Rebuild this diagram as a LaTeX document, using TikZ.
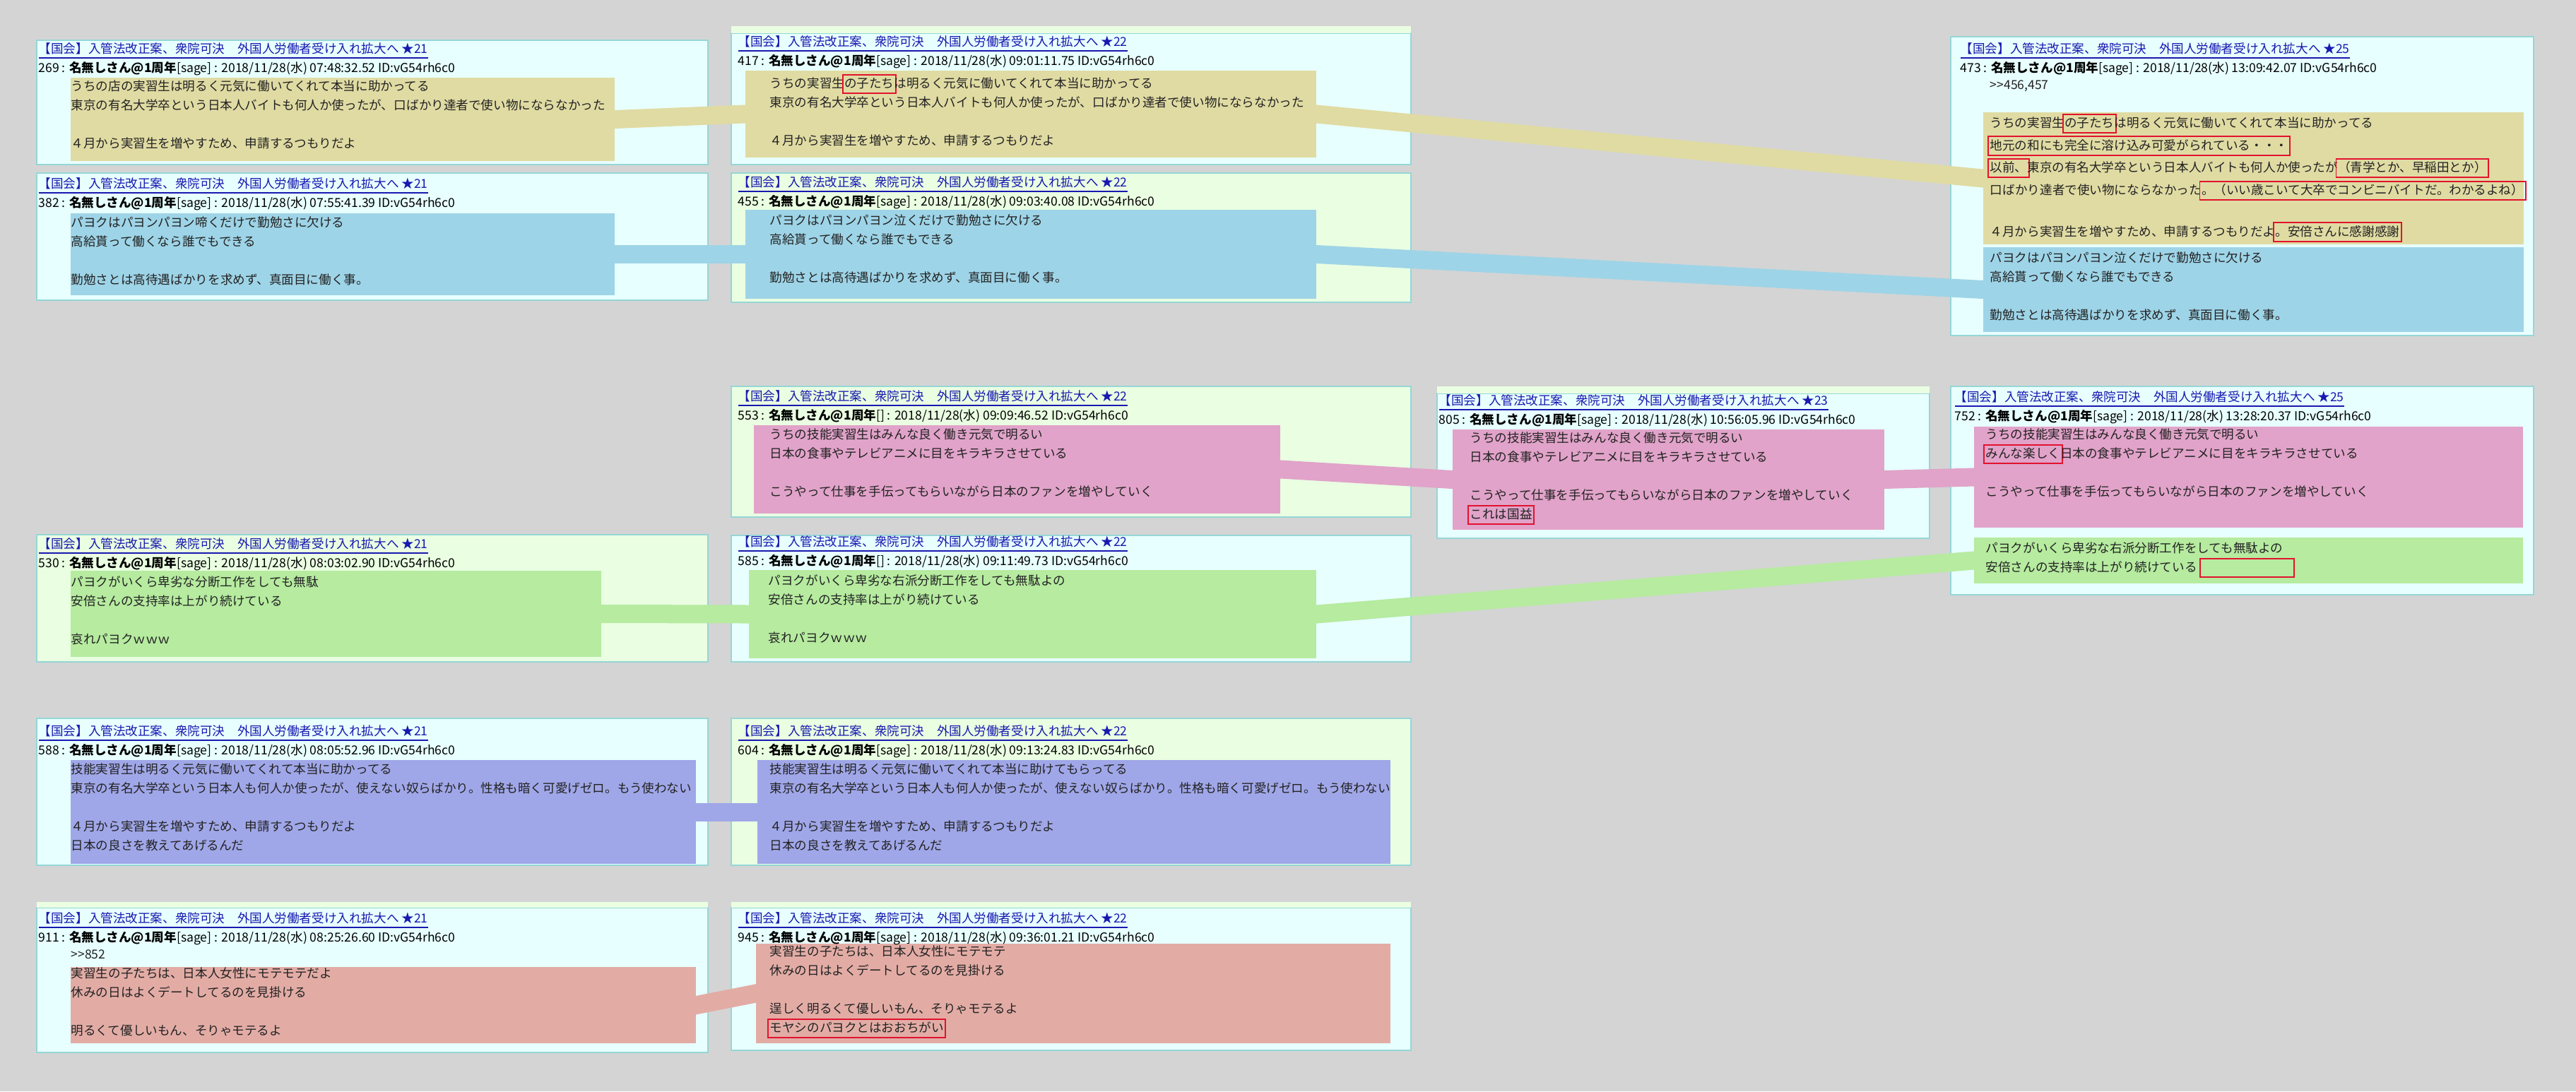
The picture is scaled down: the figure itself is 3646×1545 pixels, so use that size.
\documentclass[tikz,border=0pt]{standalone}
\usepackage{fontspec}
\newfontfamily\jp{Noto Sans CJK JP}
\usetikzlibrary{fit}

\definecolor{bgray}{RGB}{212,212,212}
\definecolor{cyanbg}{RGB}{232,255,255}
\definecolor{greenbg}{RGB}{234,255,226}
\definecolor{boxln}{RGB}{150,214,214}
\definecolor{ylw}{RGB}{224,219,163}
\definecolor{blu}{RGB}{158,212,231}
\definecolor{pnk}{RGB}{225,163,201}
\definecolor{grn}{RGB}{182,235,160}
\definecolor{prp}{RGB}{160,167,232}
\definecolor{slm}{RGB}{226,172,165}
\definecolor{lnk}{RGB}{24,24,176}
\definecolor{redfr}{RGB}{226,18,46}
\definecolor{txtc}{RGB}{34,34,34}

\newcommand\postfont{\fontsize{5pt}{7.68pt}\selectfont}
\newcommand\ttl[1]{{\color{lnk}\underline{【国会】入管法改正案、衆院可決　外国人労働者受け入れ拡大へ ★#1}}}
\newcommand\hd[3]{#1~: \textbf{名無しさん@1周年}[#2] : 2018/11/28(水) #3 ID:vG54rh6c0}
\newcommand\rmark[1]{\leavevmode\rlap{\hspace{-1pt}\textcolor{redfr}{\setlength\fboxsep{0.45pt}\setlength\fboxrule{0.55pt}\fbox{\phantom{#1}\rule[-1.4pt]{0pt}{6pt}}}}#1}

\pgfdeclarelayer{posts}
\pgfdeclarelayer{bands}
\pgfsetlayers{posts,bands,main}

\begin{document}
\begin{tikzpicture}[x=0.01cm, y=-0.01cm,
    postbox/.style={draw=boxln, line width=0.4pt},
    blk/.style={inner sep=0pt, draw=none},
    band/.style={line width=0.26cm, shorten <=-3mm, shorten >=-3mm},
    hdr/.style={anchor=north west, inner sep=0pt, align=left, font=\jp\postfont,
                text=black, execute at begin node=\strut},
    txt/.style={hdr, text=txtc}]

    % Page and post frames
    \begin{pgfonlayer}{posts}
        \fill[bgray] (0,0) rectangle (3646,1545);
        \foreach \xa/\ya/\xb/\yb/\bg in {52/57/1002/233/cyanbg, 52/245/1002/425/cyanbg,
                1035/47/1997/233/cyanbg, 1035/245/1997/428/greenbg, 2761/52/3586/475/cyanbg,
                1035/547/1997/732/greenbg, 2034/557/2731/762/cyanbg, 2761/547/3586/842/cyanbg,
                52/757/1002/937/greenbg, 1035/758/1997/937/cyanbg, 52/1017/1002/1225/cyanbg,
                1035/1017/1997/1225/greenbg, 52/1285/1002/1490/cyanbg, 1035/1285/1997/1487/cyanbg}
            \draw[postbox, fill=\bg] (\xa,\ya) rectangle (\xb,\yb);
        % end of the post above
        \foreach \xa/\ya/\xb/\yb in {1035/37/1997/47, 2034/547/2731/557,
                52/1277/1002/1285, 1035/1277/1997/1285}
            \fill[greenbg] (\xa,\ya) rectangle (\xb,\yb);
    \end{pgfonlayer}

    % Coloured passages
    \node[blk, fill=ylw, fit={(100,110) (870,228)}] (b1) {};
    \node[blk, fill=blu, fit={(100,302) (870,418)}] (b2) {};
    \node[blk, fill=ylw, fit={(1055,100) (1863,223)}] (b3) {};
    \node[blk, fill=blu, fit={(1055,297) (1863,423)}] (b4) {};
    \node[blk, fill=ylw, fit={(2807,159) (3572,346)}] (b5y) {};
    \node[blk, fill=blu, fit={(2807,350) (3572,470)}] (b5b) {};
    \node[blk, fill=pnk, fit={(1067,602) (1812,727)}] (b6) {};
    \node[blk, fill=pnk, fit={(2056,608) (2667,750)}] (b7) {};
    \node[blk, fill=pnk, fit={(2794,604) (3571,747)}] (b8p) {};
    \node[blk, fill=grn, fit={(2794,761) (3571,826)}] (b8g) {};
    \node[blk, fill=grn, fit={(100,808) (851,930)}] (b9) {};
    \node[blk, fill=grn, fit={(1060,807) (1863,932)}] (b10) {};
    \node[blk, fill=prp, fit={(100,1076) (985,1223)}] (b11) {};
    \node[blk, fill=prp, fit={(1072,1076) (1968,1223)}] (b12) {};
    \node[blk, fill=slm, fit={(100,1369) (985,1477)}] (b13) {};
    \node[blk, fill=slm, fit={(1070,1336) (1968,1477)}] (b14) {};

    % Thread titles and post headers
    \node[hdr] (h1) at (54,60) {\ttl{21}\\\hd{269}{sage}{07:48:32.52}};
    \node[hdr] (h2) at (54,251) {\ttl{21}\\\hd{382}{sage}{07:55:41.39}};
    \node[hdr] (h3) at (1044,50) {\ttl{22}\\\hd{417}{sage}{09:01:11.75}};
    \node[hdr] (h4) at (1044,249) {\ttl{22}\\\hd{455}{sage}{09:03:40.08}};
    \node[hdr] (h5) at (2774,60) {\ttl{25}\\\hd{473}{sage}{13:09:42.07}};
    \node[hdr] (h6) at (1044,552) {\ttl{22}\\\hd{553}{}{09:09:46.52}};
    \node[hdr] (h7) at (2036,558) {\ttl{23}\\\hd{805}{sage}{10:56:05.96}};
    \node[hdr] (h8) at (2766,553) {\ttl{25}\\\hd{752}{sage}{13:28:20.37}};
    \node[hdr] (h9) at (54,761) {\ttl{21}\\\hd{530}{sage}{08:03:02.90}};
    \node[hdr] (h10) at (1044,758) {\ttl{22}\\\hd{585}{}{09:11:49.73}};
    \node[hdr] (h11) at (54,1026) {\ttl{21}\\\hd{588}{sage}{08:05:52.96}};
    \node[hdr] (h12) at (1044,1026) {\ttl{22}\\\hd{604}{sage}{09:13:24.83}};
    \node[hdr] (h13) at (54,1291) {\ttl{21}\\\hd{911}{sage}{08:25:26.60}};
    \node[hdr] (h14) at (1044,1291) {\ttl{22}\\\hd{945}{sage}{09:36:01.21}};

    % Post texts
    \node[txt] (t1) at (100,113) {うちの店の実習生は明るく元気に働いてくれて本当に助かってる\\
        東京の有名大学卒という日本人バイトも何人か使ったが、口ばかり達者で使い物にならなかった\\[7.68pt]
        ４月から実習生を増やすため、申請するつもりだよ};
    \node[txt] (t2) at (100,306) {パヨクはパヨンパヨン啼くだけで勤勉さに欠ける\\
        高給貰って働くなら誰でもできる\\[7.68pt]
        勤勉さとは高待遇ばかりを求めず、真面目に働く事。};
    \node[txt] (t3) at (1089,104) {うちの実習生\rmark{の子たち}は明るく元気に働いてくれて本当に助かってる\\
        東京の有名大学卒という日本人バイトも何人か使ったが、口ばかり達者で使い物にならなかった\\[7.68pt]
        ４月から実習生を増やすため、申請するつもりだよ};
    \node[txt] (t4) at (1089,303) {パヨクはパヨンパヨン泣くだけで勤勉さに欠ける\\
        高給貰って働くなら誰でもできる\\[7.68pt]
        勤勉さとは高待遇ばかりを求めず、真面目に働く事。};
    \node[txt] (t5y) at (2816,113) {>{}>456,457\\[7.68pt]
        うちの実習生\rmark{の子たち}は明るく元気に働いてくれて本当に助かってる\\
        \rmark{地元の和にも完全に溶け込み可愛がられている・・・}\\
        \rmark{以前、}東京の有名大学卒という日本人バイトも何人か使ったが\rmark{（青学とか、早稲田とか）}\\
        口ばかり達者で使い物にならなかった\rmark{。（いい歳こいて大卒でコンビニバイトだ。わかるよね）}\\[7.68pt]
        ４月から実習生を増やすため、申請するつもりだよ\rmark{。安倍さんに感謝感謝}};
    \node[txt] (t5b) at (2816,356) {パヨクはパヨンパヨン泣くだけで勤勉さに欠ける\\
        高給貰って働くなら誰でもできる\\[7.68pt]
        勤勉さとは高待遇ばかりを求めず、真面目に働く事。};
    \node[txt] (t6) at (1089,606) {うちの技能実習生はみんな良く働き元気で明るい\\
        日本の食事やテレビアニメに目をキラキラさせている\\[7.68pt]
        こうやって仕事を手伝ってもらいながら日本のファンを増やしていく};
    \node[txt] (t7) at (2080,611) {うちの技能実習生はみんな良く働き元気で明るい\\
        日本の食事やテレビアニメに目をキラキラさせている\\[7.68pt]
        こうやって仕事を手伝ってもらいながら日本のファンを増やしていく\\
        \rmark{これは国益}};
    \node[txt] (t8p) at (2810,606) {うちの技能実習生はみんな良く働き元気で明るい\\
        \rmark{みんな楽しく}日本の食事やテレビアニメに目をキラキラさせている\\[7.68pt]
        こうやって仕事を手伝ってもらいながら日本のファンを増やしていく};
    \node[txt] (t8g) at (2810,767) {パヨクがいくら卑劣な右派分断工作をしても無駄よの\\
        安倍さんの支持率は上がり続けている\hspace{2pt}\rmark{\hspace{1.28cm}}};
    \node[txt] (t9) at (100,815) {パヨクがいくら卑劣な分断工作をしても無駄\\
        安倍さんの支持率は上がり続けている\\[7.68pt]
        哀れパヨクｗｗｗ};
    \node[txt] (t10) at (1087,813) {パヨクがいくら卑劣な右派分断工作をしても無駄よの\\
        安倍さんの支持率は上がり続けている\\[7.68pt]
        哀れパヨクｗｗｗ};
    \node[txt] (t11) at (100,1080) {技能実習生は明るく元気に働いてくれて本当に助かってる\\
        東京の有名大学卒という日本人も何人か使ったが、使えない奴らばかり。性格も暗く可愛げゼロ。もう使わない\\[7.68pt]
        ４月から実習生を増やすため、申請するつもりだよ\\
        日本の良さを教えてあげるんだ};
    \node[txt] (t12) at (1089,1080) {技能実習生は明るく元気に働いてくれて本当に助けてもらってる\\
        東京の有名大学卒という日本人も何人か使ったが、使えない奴らばかり。性格も暗く可愛げゼロ。もう使わない\\[7.68pt]
        ４月から実習生を増やすため、申請するつもりだよ\\
        日本の良さを教えてあげるんだ};
    \node[txt] (t13) at (100,1344) {>{}>852\\
        実習生の子たちは、日本人女性にモテモテだよ\\
        休みの日はよくデートしてるのを見掛ける\\[7.68pt]
        明るくて優しいもん、そりゃモテるよ};
    \node[txt] (t14) at (1089,1338) {実習生の子たちは、日本人女性にモテモテ\\
        休みの日はよくデートしてるのを見掛ける\\[7.68pt]
        逞しく明るくて優しいもん、そりゃモテるよ\\
        \rmark{モヤシのパヨクとはおおちがい}};

    % Bands from post to post
    \begin{pgfonlayer}{bands}
        \draw[band, ylw] (b1.east) -- (b3.west);
        \draw[band, ylw] (b3.east) -- (b5y.west);
        \draw[band, blu] (b2.east) -- (b4.west);
        \draw[band, blu] (b4.east) -- (b5b.west);
        \draw[band, pnk] (b6.east) -- (b7.west);
        \draw[band, pnk] (b7.east) -- (b8p.west);
        \draw[band, grn] (b9.east) -- (b10.west);
        \draw[band, grn] (b10.east) -- (b8g.west);
        \draw[band, prp] (b11.east) -- (b12.west);
        \draw[band, slm] (b13.east) -- (b14.west);
    \end{pgfonlayer}
\end{tikzpicture}
\end{document}
